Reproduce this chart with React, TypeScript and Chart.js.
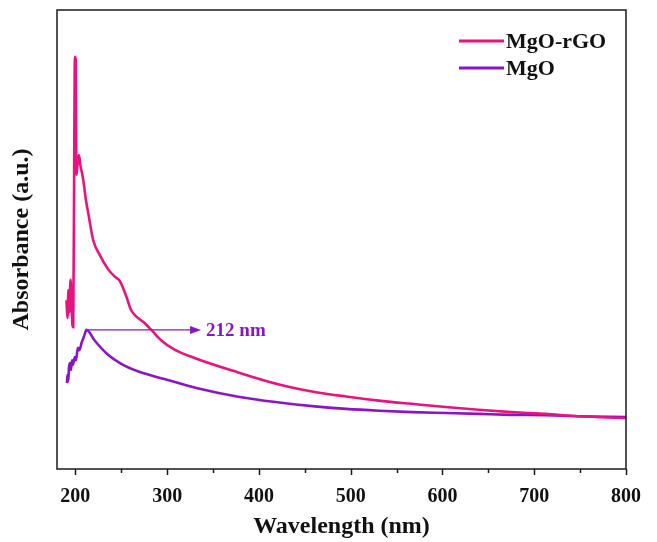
import React, { useEffect, useRef } from "react";
import { Chart, registerables } from "chart.js";

Chart.register(...registerables);

// MgO-rGO (pink) wavelength (nm) and absorbance (a.u.)
const mgoRgoWl = [190.3, 191.4, 192.5, 193.6, 194.7, 195.8, 196.8, 197.7, 198.8, 199.5, 200.4, 201.2, 202.3, 203.9, 205.5, 208.6, 211.5, 214.0, 219.4, 226.7, 235.4, 243.0, 248.4, 255.7, 260.3, 266.5, 275.5, 282.8, 293.7, 308.1, 329.8, 376.5, 422.1, 457.9, 494.9, 530.7, 566.5, 603.5, 639.3, 675.1, 712.1, 747.9, 800];
const mgoRgoAbs = [36.8, 32.9, 39.0, 34.2, 41.2, 36.8, 31.4, 30.9, 69.5, 89.8, 89.1, 64.1, 66.2, 68.4, 66.2, 63.0, 58.6, 55.8, 49.9, 46.6, 43.6, 41.9, 41.0, 37.5, 34.8, 33.2, 31.8, 30.3, 28.0, 26.0, 24.2, 21.1, 18.4, 16.9, 15.8, 14.9, 14.2, 13.5, 12.9, 12.4, 12.0, 11.5, 11.1];

// MgO (purple)
const mgoWl = [190.9, 191.4, 192.3, 193.0, 194.1, 195.2, 196.3, 197.4, 199.5, 200.6, 202.8, 204.4, 206.8, 209.3, 212.2, 221.0, 235.0, 250.0, 268.0, 297.0, 333.0, 379.0, 422.0, 458.0, 495.0, 531.0, 567.0, 604.0, 640.0, 675.0, 712.0, 748.0, 800];
const mgoAbs = [18.7, 20.5, 19.2, 22.0, 23.1, 21.6, 23.7, 22.7, 24.4, 23.7, 26.4, 25.9, 27.5, 28.8, 30.3, 28.0, 25.0, 22.9, 21.3, 19.6, 17.6, 15.7, 14.5, 13.7, 13.1, 12.7, 12.4, 12.2, 12.0, 11.8, 11.7, 11.5, 11.3];

const xTicks = [200, 250, 300, 350, 400, 450, 500, 550, 600, 650, 700, 750, 800];
const seriesNames = ["MgO-rGO", "MgO"];
const peakWl = 212;
const peakAbs = 30.3;
const arrowEndWl = 337;
const peakLabel = "212 nm";

const PINK = "#E8137E";
const PURPLE = "#8B14C6";
const SERIF = '"Liberation Serif", "Times New Roman", serif';

const decorPlugin = {
  id: "decor",
  afterDraw(chart: any) {
    const { ctx, chartArea: a, scales } = chart;
    const xs = scales.x;
    const ys = scales.y;
    ctx.save();
    // frame
    ctx.strokeStyle = "#1a1a1a";
    ctx.lineWidth = 1.5;
    ctx.strokeRect(a.left, a.top, a.right - a.left, a.bottom - a.top);
    // x ticks
    ctx.lineWidth = 1.5;
    xTicks.forEach((v) => {
      const px = Math.round(xs.getPixelForValue(v)) + 0.5;
      const len = v % 100 === 0 ? 6 : 4;
      ctx.beginPath();
      ctx.moveTo(px, a.bottom);
      ctx.lineTo(px, a.bottom + len);
      ctx.stroke();
    });
    // axis titles
    ctx.fillStyle = "#111";
    ctx.font = `bold 24px ${SERIF}`;
    ctx.textAlign = "center";
    ctx.textBaseline = "middle";
    ctx.fillText("Wavelength (nm)", (a.left + a.right) / 2, 527);
    ctx.save();
    ctx.translate(22, (a.top + a.bottom) / 2);
    ctx.rotate(-Math.PI / 2);
    ctx.fillText("Absorbance (a.u.)", 0, 0);
    ctx.restore();
    // legend
    const colors = [PINK, PURPLE];
    const rows = [41, 68];
    ctx.font = `bold 22px ${SERIF}`;
    ctx.textAlign = "left";
    seriesNames.forEach((name, i) => {
      ctx.strokeStyle = colors[i];
      ctx.lineWidth = 3;
      ctx.beginPath();
      ctx.moveTo(459, rows[i]);
      ctx.lineTo(504, rows[i]);
      ctx.stroke();
      ctx.fillStyle = "#111";
      ctx.fillText(name, 506, rows[i] + 1);
    });
    // annotation arrow
    const x0 = xs.getPixelForValue(peakWl);
    const y0 = ys.getPixelForValue(peakAbs);
    const x1 = xs.getPixelForValue(arrowEndWl);
    ctx.strokeStyle = PURPLE;
    ctx.fillStyle = PURPLE;
    ctx.lineWidth = 1.3;
    ctx.beginPath();
    ctx.moveTo(x0, y0);
    ctx.lineTo(x1 - 8, y0);
    ctx.stroke();
    ctx.beginPath();
    ctx.moveTo(x1, y0);
    ctx.lineTo(x1 - 11, y0 - 4);
    ctx.lineTo(x1 - 11, y0 + 4);
    ctx.closePath();
    ctx.fill();
    ctx.font = `bold 19px ${SERIF}`;
    ctx.textBaseline = "middle";
    ctx.fillText(peakLabel, x1 + 5, y0 + 1);
    ctx.restore();
  },
};

export default function App() {
  const ref = useRef<HTMLCanvasElement | null>(null);
  useEffect(() => {
    document.body.style.margin = "0";
    const canvas = ref.current;
    if (!canvas) return;
    const chart = new Chart(canvas, {
      type: "line",
      data: {
        datasets: [
          {
            label: seriesNames[0],
            data: mgoRgoWl.map((x, i) => ({ x, y: mgoRgoAbs[i] })),
            borderColor: PINK,
            borderWidth: 2.6,
            pointRadius: 0,
            cubicInterpolationMode: "monotone",
            fill: false,
          },
          {
            label: seriesNames[1],
            data: mgoWl.map((x, i) => ({ x, y: mgoAbs[i] })),
            borderColor: PURPLE,
            borderWidth: 2.6,
            pointRadius: 0,
            cubicInterpolationMode: "monotone",
            fill: false,
          },
        ],
      },
      options: {
        responsive: false,
        animation: false,
        devicePixelRatio: 1,
        layout: { padding: { left: 57, right: 29, top: 10, bottom: 0 } },
        plugins: { legend: { display: false }, tooltip: { enabled: false } },
        scales: {
          x: {
            type: "linear",
            min: 180,
            max: 800,
            afterBuildTicks: (scale: any) => {
              scale.ticks = xTicks.map((v) => ({ value: v }));
            },
            afterFit: (scale: any) => {
              scale.height = 73;
            },
            grid: { display: false, drawTicks: false },
            border: { display: false },
            ticks: {
              autoSkip: false,
              maxRotation: 0,
              padding: 16,
              color: "#111",
              font: { family: SERIF, size: 20, weight: "bold" },
              callback: (v: any) => (Number(v) % 100 === 0 ? String(v) : ""),
            },
          },
          y: {
            type: "linear",
            display: false,
            min: 0,
            max: 100,
          },
        },
      },
      plugins: [decorPlugin],
    });
    return () => chart.destroy();
  }, []);
  return (
    <div style={{ width: 657, height: 542 }}>
      <canvas ref={ref} width={657} height={542} />
    </div>
  );
}
